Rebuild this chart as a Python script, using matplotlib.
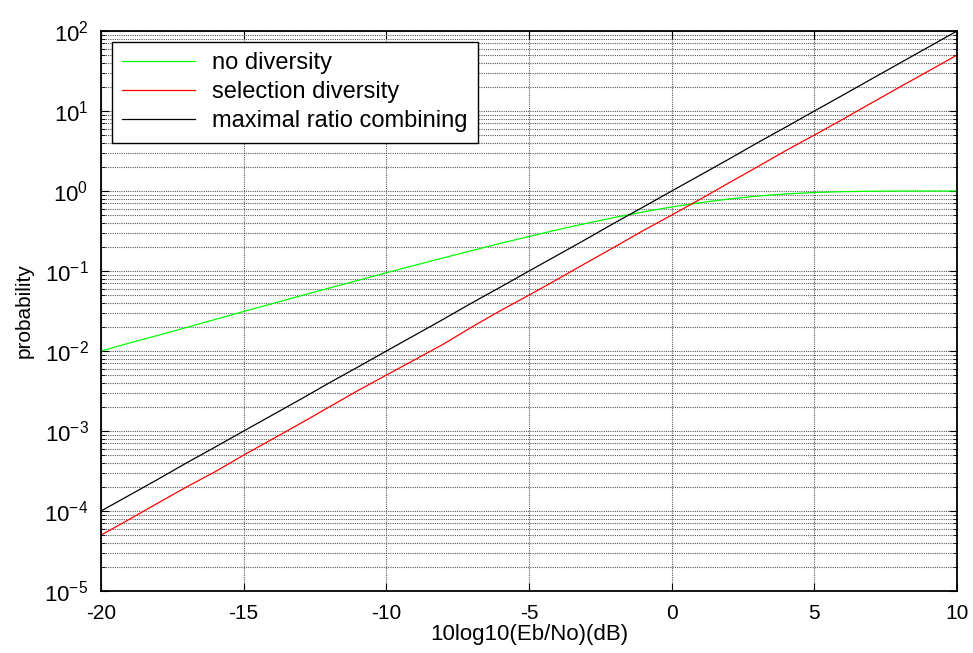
import matplotlib
matplotlib.use("Agg")
import matplotlib.pyplot as plt
from matplotlib.ticker import LogLocator, FixedLocator, NullFormatter

plt.rcParams["font.family"] = ["Liberation Sans", "DejaVu Sans"]
plt.rcParams["mathtext.fontset"] = "custom"
plt.rcParams["mathtext.rm"] = "Liberation Sans"
plt.rcParams["mathtext.it"] = "Liberation Sans"
plt.rcParams["axes.unicode_minus"] = False

# Eb/No in dB
snr_db = [-20, -19, -18, -17, -16, -15, -14, -13, -12, -11, -10, -9, -8, -7, -6,
          -5, -4, -3, -2, -1, 0, 1, 2, 3, 4, 5, 6, 7, 8, 9, 10]

no_div = [0.0100, 0.0126, 0.0157, 0.0197, 0.0248, 0.0312, 0.0391, 0.0490, 0.0612, 0.0763,
          0.0950, 0.118, 0.146, 0.180, 0.222, 0.270, 0.328, 0.394, 0.467, 0.548,
          0.632, 0.715, 0.794, 0.864, 0.920, 0.958, 0.982, 0.993, 0.998, 1.0, 1.0]

sel_div = [5.0e-5, 7.9e-5, 1.26e-4, 2.0e-4, 3.1e-4, 5.0e-4, 7.9e-4, 1.25e-3, 2.0e-3, 3.2e-3,
           5.0e-3, 7.8e-3, 1.22e-2, 2.0e-2, 3.2e-2, 5.0e-2, 7.9e-2, 0.126, 0.20, 0.32,
           0.50, 0.79, 1.26, 2.0, 3.2, 5.0, 7.9, 12.6, 20.0, 31.6, 50.0]

mrc = [1.0e-4, 1.58e-4, 2.5e-4, 4.0e-4, 6.3e-4, 1.0e-3, 1.58e-3, 2.5e-3, 4.0e-3, 6.3e-3,
       1.0e-2, 1.58e-2, 2.5e-2, 4.0e-2, 6.3e-2, 0.100, 0.158, 0.25, 0.40, 0.63,
       1.0, 1.58, 2.5, 4.0, 6.3, 10.0, 15.8, 25.1, 39.8, 63.1, 100.0]

fig = plt.figure(figsize=(9.73, 6.53), dpi=100)
ax = fig.add_axes([0.1038, 0.0949, 0.8798, 0.8576])

ax.semilogy(snr_db, no_div, color="#00ff00", lw=0.9, label="no diversity")
ax.semilogy(snr_db, sel_div, color="#ff0000", lw=0.9, label="selection diversity")
ax.semilogy(snr_db, mrc, color="black", lw=0.9, label="maximal ratio combining")

ax.set_xlim(-20, 10)
ax.set_ylim(1e-5, 1e2)
ax.xaxis.set_major_locator(FixedLocator([-20, -15, -10, -5, 0, 5, 10]))
ax.yaxis.set_major_locator(LogLocator(base=10, numticks=20))
ax.yaxis.set_minor_locator(LogLocator(base=10, subs=range(2, 10), numticks=20))
ax.yaxis.set_minor_formatter(NullFormatter())

ax.grid(True, which="major", color="#5a5a5a", linestyle=(0, (1, 1)), lw=0.8)
ax.grid(True, which="minor", axis="y", color="#5a5a5a", linestyle=(0, (1, 1)), lw=0.8)

ax.tick_params(which="both", direction="in", top=True, right=True)
ax.tick_params(axis="x", labelsize=15, pad=9)
ax.tick_params(axis="y", labelsize=16, pad=9)
ax.tick_params(which="major", length=6)
ax.tick_params(which="minor", length=3)
for s in ax.spines.values():
    s.set_linewidth(1.3)

ax.set_xlabel("10log10(Eb/No)(dB)", fontsize=16, labelpad=1)
ax.set_ylabel("probability", fontsize=15, labelpad=8)

leg = ax.legend(loc="upper left", fontsize=17, fancybox=False, framealpha=1,
                edgecolor="black", borderaxespad=0.45, borderpad=0.45,
                handlelength=3.1, labelspacing=0.3, handletextpad=0.7)
leg.get_frame().set_linewidth(1.0)

fig.savefig("out.png", dpi=100)
